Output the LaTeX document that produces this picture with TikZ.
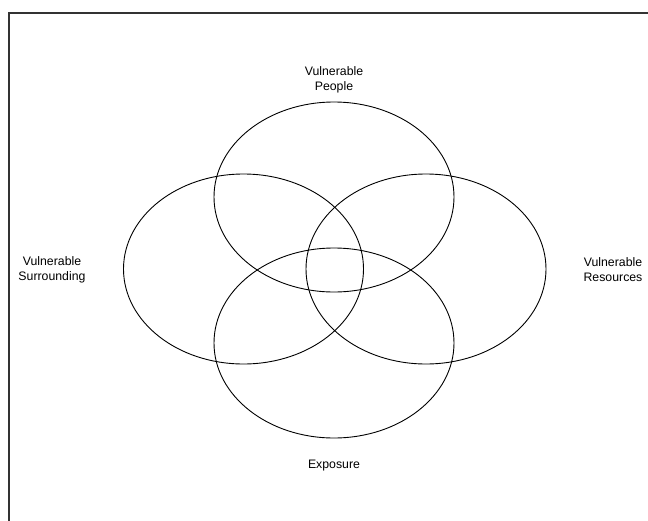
\documentclass[tikz,border=0pt]{standalone}
\usepackage{fontspec}
\setmainfont{Liberation Sans}
\usetikzlibrary{calc}

\begin{document}
\begin{tikzpicture}[x=1pt, y=-1pt,
    ring/.style={line width=0.9pt},
    tag/.style={align=center, font=\fontsize{12.3}{15}\selectfont, inner sep=0pt}]
    \useasboundingbox (0,0) rectangle (648,520);
    \clip (0,0) rectangle (648,520);
    \draw [line width=1.2pt, color=black!80] (9,13) rectangle (670,540);
    \coordinate (P) at (334,197);
    \coordinate (S) at (243.5,269);
    \coordinate (R) at (426,269);
    \coordinate (E) at (334,343);
    \draw [ring] (P) ellipse [x radius=120, y radius=95];
    \draw [ring] (S) ellipse [x radius=120, y radius=95];
    \draw [ring] (R) ellipse [x radius=120, y radius=95];
    \draw [ring] (E) ellipse [x radius=120, y radius=95];
    \node (people) [tag] at (334,80) {Vulnerable\\People};
    \node (surround) [tag] at (52,270) {Vulnerable\\Surrounding};
    \node (resource) [tag] at (613,270) {Vulnerable\\Resources};
    \node (expose) [tag] at (334,466) {Exposure};
\end{tikzpicture}
\end{document}
